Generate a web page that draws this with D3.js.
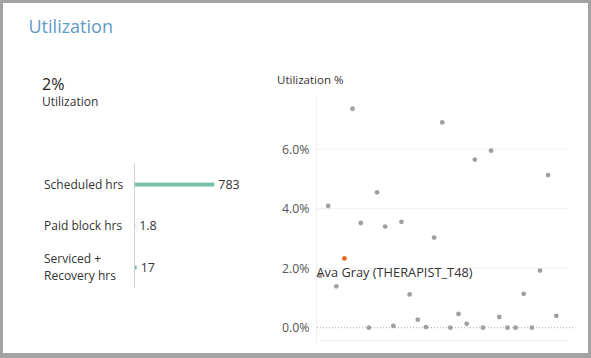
<!DOCTYPE html>
<html><head><meta charset="utf-8">
<script src="https://cdn.jsdelivr.net/npm/d3@7"></script>
<style>
html,body{margin:0;padding:0;background:#fff;}
svg{display:block;font-family:"Open Sans",Lato,sans-serif;}
</style></head>
<body>
<svg id="c" width="591" height="358"></svg>
<script>
// ---- data ----
const title = "Utilization";
const kpiValue = "2%";
const kpiLabel = "Utilization";
const barCategories = [["Scheduled hrs"], ["Paid block hrs"], ["Serviced +", "Recovery hrs"]];
const barValues = [783, 1.8, 17];
const barLabels = ["783", "1.8", "17"];
const scatterTitle = "Utilization %";
const utilValues = [1.74, 4.09, 1.39, 2.33, 7.36, 3.52, 0.0, 4.55, 3.40, 0.06, 3.56, 1.12, 0.27, 0.02, 3.03,
  6.90, 0.0, 0.46, 0.13, 5.65, 0.0, 5.95, 0.36, 0.0, 0.0, 1.14, 0.0, 1.92, 5.13, 0.40];
const highlightIndex = 3;
const highlightLabel = "Ava Gray (THERAPIST_T48)";
const yTicks = [0, 2, 4, 6];
const yTickLabels = ["0.0%", "2.0%", "4.0%", "6.0%"];

const FONT = "'Open Sans',Lato,sans-serif";
const svg = d3.select("#c");
// frame
svg.append("rect").attr("x",0).attr("y",0).attr("width",591).attr("height",358).attr("fill","#a3a3a3");
svg.append("rect").attr("x",3).attr("y",3).attr("width",585).attr("height",350).attr("fill","#fff");

svg.append("text").attr("x",28.5).attr("y",33).attr("font-size",18).attr("fill","#5e9bc8").text(title);
svg.append("text").attr("x",42).attr("y",90).attr("font-size",16).attr("fill","#222").text(kpiValue);
svg.append("text").attr("x",42).attr("y",106).attr("font-size",12).attr("fill","#333").text(kpiLabel);

// ---- bar chart ----
const bx = d3.scaleLinear().domain([0, 783]).range([135, 214.3]);
const by = d3.scaleBand().domain(d3.range(barValues.length)).range([163, 289]).paddingInner(0).paddingOuter(0.02);
const bg = svg.append("g");
bg.append("line").attr("x1",134.5).attr("x2",134.5).attr("y1",163).attr("y2",288).attr("stroke","#d0d0d0");
barValues.forEach((v,i)=>{
  const cy = by(i) + by.bandwidth()/2;
  bg.append("rect").attr("x",bx(0)).attr("y",cy-2).attr("width",Math.max(bx(v)-bx(0),0)).attr("height",4).attr("fill","#79c1a5");
  bg.append("text").attr("x",Math.max(bx(v),135)+4).attr("y",cy).attr("dy","0.35em").attr("font-size",12.5).attr("fill","#333").text(barLabels[i]);
  const lines = barCategories[i];
  lines.forEach((t,j)=>{
    bg.append("text").attr("x",44).attr("y",cy + (j-(lines.length-1)/2)*17).attr("dy","0.35em")
      .attr("font-size",12).attr("fill","#333").text(t);
  });
});

// ---- scatter ----
svg.append("text").attr("x",277).attr("y",84).attr("font-size",11.5).attr("fill","#333").text(scatterTitle);
const sx = d3.scalePoint().domain(d3.range(utilValues.length)).range([320, 556.3]);
const sy = d3.scaleLinear().domain([0, 2]).range([327.7, 268.2]);
const sg = svg.append("g");
yTicks.filter(t=>t>0).forEach(t=>{
  sg.append("line").attr("x1",317).attr("x2",568).attr("y1",sy(t)).attr("y2",sy(t)).attr("stroke","#f0f0f0");
});
sg.append("line").attr("x1",316.5).attr("x2",316.5).attr("y1",96).attr("y2",343).attr("stroke","#f0f0f0");
sg.append("line").attr("x1",319).attr("x2",568).attr("y1",340.5).attr("y2",340.5).attr("stroke","#ececec");
sg.append("line").attr("x1",317).attr("x2",573).attr("y1",sy(0)).attr("y2",sy(0)).attr("stroke","#aaa").attr("stroke-dasharray","1,2");
const yAxis = d3.axisLeft(sy).tickValues(yTicks).tickFormat((d,i)=>yTickLabels[i]).tickSize(0).tickPadding(0);
const ag = svg.append("g").attr("transform","translate(309.5,0)").call(yAxis);
ag.select(".domain").remove();
ag.selectAll("text").attr("font-size",12.3).attr("fill","#555").attr("font-family",FONT);

sg.selectAll("circle.pt").data(utilValues).join("circle").attr("class","pt")
  .attr("cx",(d,i)=>sx(i)).attr("cy",d=>sy(d)).attr("r",2.4)
  .attr("fill",(d,i)=>i===highlightIndex?"#e8661c":"#a0a0a0");
sg.append("text").attr("x",316.5).attr("y",sy(utilValues[highlightIndex])+14.5).attr("dy","0.35em")
  .attr("font-size",12.8).attr("fill","#333").text(highlightLabel);
</script>
</body></html>
